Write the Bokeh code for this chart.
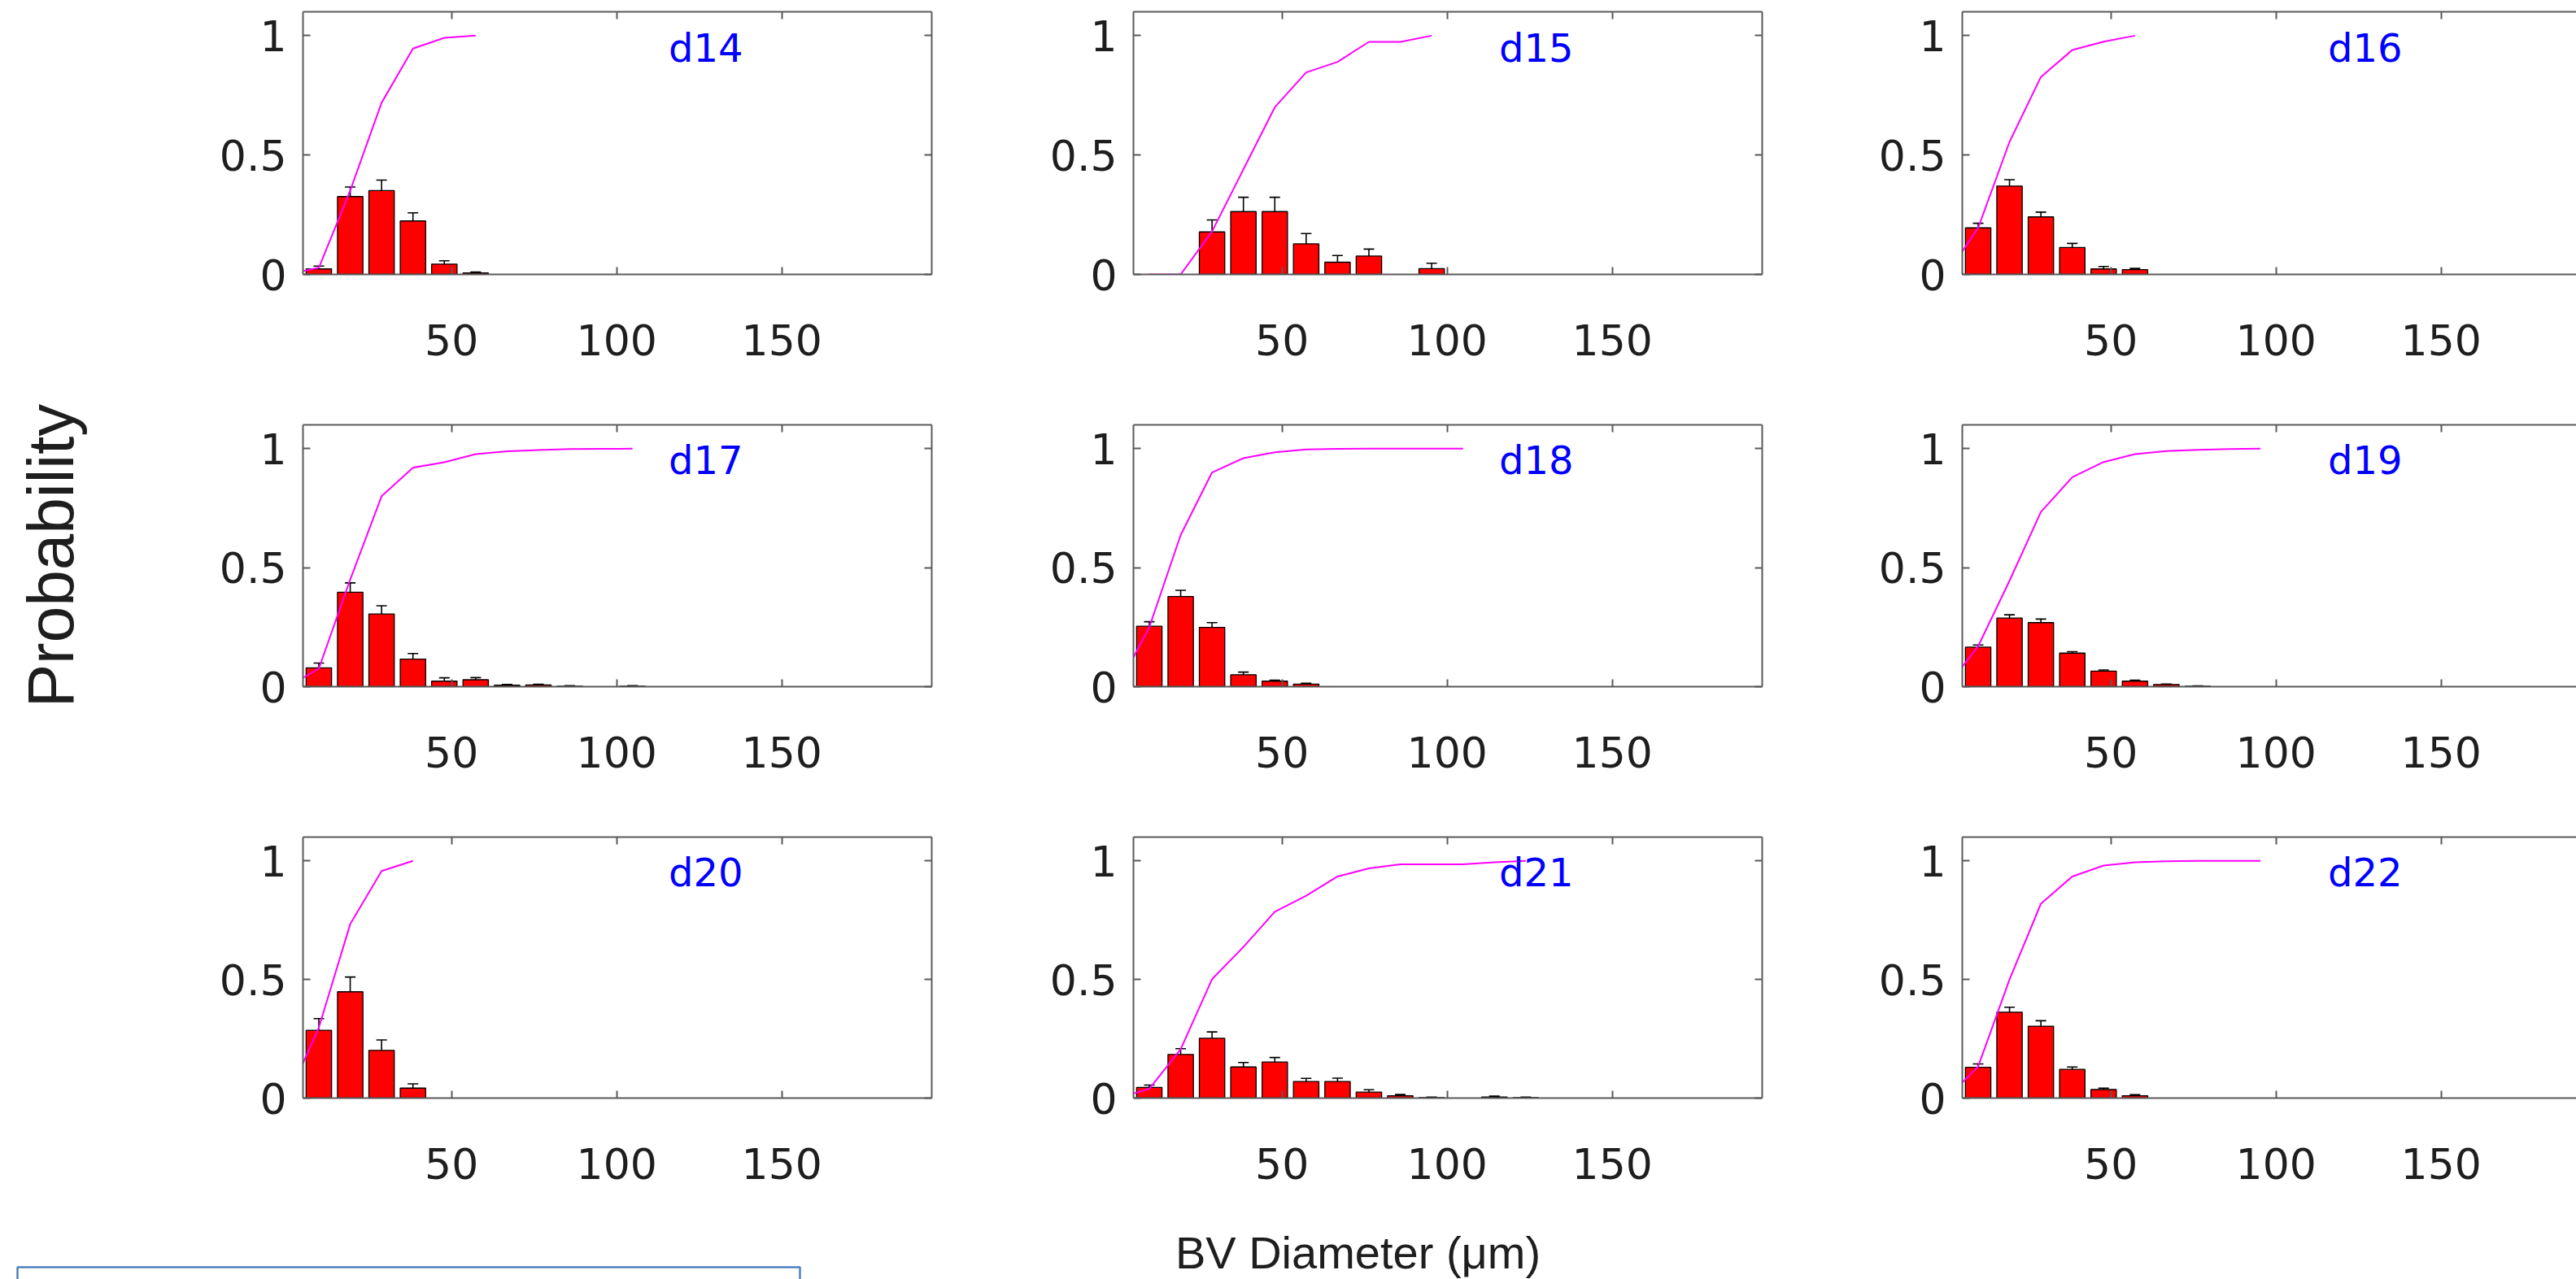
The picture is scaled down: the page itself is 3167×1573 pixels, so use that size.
from bokeh.plotting import figure
from bokeh.models import Range1d, LinearAxis, FixedTicker, Whisker, ColumnDataSource, TeeHead
from bokeh.layouts import row, column
from bokeh.embed import file_html
from bokeh.resources import INLINE
from bokeh.core.properties import value

# ---------------- data ----------------
BIN_CENTERS = [9.8, 19.3, 28.8, 38.3, 47.8, 57.3, 66.8, 76.3, 85.8, 95.3, 104.8, 114.3, 123.8]
X_TICKS = [50, 100, 150]
Y_TICKS = [0, 0.5, 1]
Y_TICK_LABELS = {0: "0", 0.5: "0.5", 1: "1"}
PANEL_NAMES = ["d14", "d15", "d16", "d17", "d18", "d19", "d20", "d21", "d22"]

d14_prob = [0.023, 0.326, 0.351, 0.224, 0.043, 0.006]
d14_err = [0.012, 0.040, 0.044, 0.034, 0.014, 0.004]
d14_cdf_x = [0.3, 9.8, 19.3, 28.8, 38.3, 47.8, 57.3]
d14_cdf_y = [0.0, 0.028, 0.351, 0.719, 0.946, 0.991, 1.0]

d15_prob = [0.0, 0.0, 0.178, 0.263, 0.263, 0.128, 0.051, 0.077, 0.0, 0.024]
d15_err = [0.0, 0.0, 0.050, 0.060, 0.060, 0.043, 0.028, 0.029, 0.0, 0.023]
d15_cdf_x = [9.8, 19.3, 28.8, 38.3, 47.8, 57.3, 66.8, 76.3, 85.8, 95.3]
d15_cdf_y = [0.0, 0.0, 0.18, 0.44, 0.70, 0.846, 0.89, 0.974, 0.974, 1.0]

d16_prob = [0.195, 0.370, 0.241, 0.113, 0.023, 0.020]
d16_err = [0.019, 0.027, 0.020, 0.017, 0.010, 0.005]
d16_cdf_x = [0.3, 9.8, 19.3, 28.8, 38.3, 47.8, 57.3]
d16_cdf_y = [0.0, 0.195, 0.555, 0.827, 0.94, 0.975, 1.0]

d17_prob = [0.079, 0.397, 0.305, 0.116, 0.023, 0.029, 0.006, 0.007, 0.002, 0.0, 0.002]
d17_err = [0.020, 0.039, 0.035, 0.023, 0.014, 0.009, 0.003, 0.003, 0.002, 0.0, 0.002]
d17_cdf_x = [0.3, 9.8, 19.3, 28.8, 38.3, 47.8, 57.3, 66.8, 76.3, 85.8, 95.3, 104.8]
d17_cdf_y = [0.0, 0.076, 0.45, 0.80, 0.92, 0.943, 0.977, 0.989, 0.994, 0.998, 0.999, 1.0]

d18_prob = [0.254, 0.379, 0.249, 0.050, 0.023, 0.011]
d18_err = [0.019, 0.026, 0.020, 0.011, 0.004, 0.003]
d18_cdf_x = [0.3, 9.8, 19.3, 28.8, 38.3, 47.8, 57.3, 66.8, 76.3, 85.8, 95.3, 104.8]
d18_cdf_y = [0.0, 0.25, 0.637, 0.90, 0.96, 0.985, 0.997, 0.999, 1.0, 1.0, 1.0, 1.0]

d19_prob = [0.166, 0.288, 0.269, 0.141, 0.065, 0.023, 0.009, 0.002]
d19_err = [0.009, 0.014, 0.015, 0.006, 0.005, 0.004, 0.002, 0.001]
d19_cdf_x = [0.3, 9.8, 19.3, 28.8, 38.3, 47.8, 57.3, 66.8, 76.3, 85.8, 95.3]
d19_cdf_y = [0.0, 0.17, 0.445, 0.734, 0.88, 0.944, 0.977, 0.99, 0.995, 0.998, 1.0]

d20_prob = [0.286, 0.448, 0.201, 0.042]
d20_err = [0.049, 0.062, 0.044, 0.018]
d20_cdf_x = [0.3, 9.8, 19.3, 28.8, 38.3]
d20_cdf_y = [0.0, 0.297, 0.733, 0.957, 1.0]

d21_prob = [0.045, 0.184, 0.252, 0.131, 0.152, 0.070, 0.070, 0.025, 0.010, 0.002, 0.0, 0.005, 0.002]
d21_err = [0.010, 0.024, 0.027, 0.019, 0.019, 0.013, 0.014, 0.010, 0.005, 0.002, 0.0, 0.003, 0.002]
d21_cdf_x = [0.3, 9.8, 19.3, 28.8, 38.3, 47.8, 57.3, 66.8, 76.3, 85.8, 95.3, 104.8, 114.3, 123.8]
d21_cdf_y = [0.0, 0.039, 0.206, 0.501, 0.637, 0.785, 0.853, 0.934, 0.968, 0.985, 0.985, 0.985, 0.994, 1.0]

d22_prob = [0.130, 0.362, 0.303, 0.121, 0.036, 0.010]
d22_err = [0.014, 0.021, 0.023, 0.010, 0.006, 0.004]
d22_cdf_x = [0.3, 9.8, 19.3, 28.8, 38.3, 47.8, 57.3, 66.8, 76.3, 85.8, 95.3]
d22_cdf_y = [0.0, 0.133, 0.50, 0.819, 0.934, 0.98, 0.994, 0.998, 1.0, 1.0, 1.0]

PROBS = [d14_prob, d15_prob, d16_prob, d17_prob, d18_prob, d19_prob, d20_prob, d21_prob, d22_prob]
ERRS = [d14_err, d15_err, d16_err, d17_err, d18_err, d19_err, d20_err, d21_err, d22_err]
CDF_X = [d14_cdf_x, d15_cdf_x, d16_cdf_x, d17_cdf_x, d18_cdf_x, d19_cdf_x, d20_cdf_x, d21_cdf_x, d22_cdf_x]
CDF_Y = [d14_cdf_y, d15_cdf_y, d16_cdf_y, d17_cdf_y, d18_cdf_y, d19_cdf_y, d20_cdf_y, d21_cdf_y, d22_cdf_y]

X_LABEL = "BV Diameter (μm)"
Y_LABEL = "Probability"

# ---------------- layout / style ----------------
COL_W = [1260, 1020, 887]
COL_LEFT = [372, 133, 132]
COL_RIGHT = [115, 114, 0]
ROW_H = [470, 505, 505]
ROW_TOP = [14, 52, 54]
ROW_BOTTOM = [133, 131, 130]
BOTTOM_STRIP_H = 1573 - sum(ROW_H)
X_START = 5.0
X_PER_PX = 190.4 / 773.0
FRAME_COLOR = "#5a5a5a"
TICK_FONT = "DejaVu Sans"
TICK_SIZE = "52px"
TEXT_COLOR = "#1e1e1e"


def style_axis(ax, ticks, show_labels, standoff=0, overrides=None):
    ax.ticker = FixedTicker(ticks=ticks)
    ax.major_tick_in = 9
    ax.major_tick_out = 0
    ax.minor_tick_in = 0
    ax.minor_tick_out = 0
    ax.axis_line_color = FRAME_COLOR
    ax.axis_line_width = 2
    ax.major_tick_line_color = FRAME_COLOR
    ax.major_tick_line_width = 2
    if overrides:
        ax.major_label_overrides = overrides
    if show_labels:
        ax.major_label_text_font = TICK_FONT
        ax.major_label_text_font_size = TICK_SIZE
        ax.major_label_text_color = TEXT_COLOR
        ax.major_label_standoff = standoff
    else:
        ax.major_label_text_font_size = "1px"
        ax.major_label_text_color = None
        ax.major_label_standoff = 0


def make_panel(i):
    r, c = divmod(i, 3)
    frame_w = COL_W[c] - COL_LEFT[c] - COL_RIGHT[c]
    x_end = X_START + frame_w * X_PER_PX
    p = figure(width=COL_W[c], height=ROW_H[r],
               x_range=Range1d(X_START, x_end), y_range=Range1d(0, 1.1),
               output_backend="svg", toolbar_location=None,
               min_border_left=COL_LEFT[c], min_border_right=COL_RIGHT[c],
               min_border_top=ROW_TOP[r], min_border_bottom=ROW_BOTTOM[r])
    p.xgrid.visible = False
    p.ygrid.visible = False
    p.outline_line_color = None
    p.background_fill_color = "white"
    p.border_fill_color = "white"

    style_axis(p.xaxis[0], X_TICKS, True, standoff=61)
    style_axis(p.yaxis[0], Y_TICKS, True, standoff=20, overrides=Y_TICK_LABELS)
    top_ax = LinearAxis()
    style_axis(top_ax, X_TICKS, False)
    p.add_layout(top_ax, "above")
    if c < 2:
        right_ax = LinearAxis()
        style_axis(right_ax, Y_TICKS, False)
        p.add_layout(right_ax, "right")

    probs = PROBS[i]
    errs = ERRS[i]
    keep = [k for k in range(len(probs)) if probs[k] > 0]
    xs = [BIN_CENTERS[k] for k in keep]
    tops = [probs[k] for k in keep]
    es = [errs[k] for k in keep]
    src = ColumnDataSource(dict(x=xs, top=tops,
                                upper=[t + e for t, e in zip(tops, es)],
                                lower=[max(t - e, 0) for t, e in zip(tops, es)]))
    p.vbar(x="x", top="top", bottom=0, width=7.7, source=src,
           fill_color="#ff0000", line_color="black", line_width=1.3)
    w = Whisker(base="x", upper="upper", lower="lower", source=src,
                line_color="black", line_width=1.6,
                upper_head=TeeHead(size=13, line_color="black", line_width=1.6),
                lower_head=TeeHead(size=13, line_color="black", line_width=1.6))
    p.add_layout(w)
    p.line(CDF_X[i], CDF_Y[i], line_color="#ff00ff", line_width=2)

    p.text(x=[127], y=[0.95], text=[PANEL_NAMES[i]], text_color="#0000ff",
           text_font=value("DejaVu Sans"), text_font_size="48px",
           text_align="center", text_baseline="alphabetic")
    return p


panels = [make_panel(i) for i in range(9)]

# y-axis title on the middle-left panel, pushed out into its left border
ya = panels[3].yaxis[0]
ya.axis_label = Y_LABEL
ya.axis_label_text_font = "Liberation Sans"
ya.axis_label_text_font_size = "80px"
ya.axis_label_text_font_style = "normal"
ya.axis_label_text_color = TEXT_COLOR
ya.axis_label_standoff = 160

# bottom strip with the x-axis title and the box edge
y_top = sum(ROW_H)
fb = figure(width=3167, height=BOTTOM_STRIP_H, x_range=Range1d(0, 3167), y_range=Range1d(1573, y_top),
            output_backend="svg", toolbar_location=None,
            min_border_left=0, min_border_right=0, min_border_top=0, min_border_bottom=0)
fb.xaxis.visible = False
fb.yaxis.visible = False
fb.xgrid.visible = False
fb.ygrid.visible = False
fb.outline_line_color = None
fb.text(x=[1669], y=[1540], text=[X_LABEL], text_color=TEXT_COLOR,
        text_font=value("Liberation Sans"), text_font_size="56px",
        text_align="center", text_baseline="alphabetic")
fb.quad(left=[21], right=[983], top=[1558], bottom=[1590], fill_color=None,
        line_color="#4f81bd", line_width=2.5)

layout = column(row(*panels[0:3]), row(*panels[3:6]), row(*panels[6:9]), fb)

open("out.html", "w").write(file_html(layout, INLINE, "BV diameter distributions"))
